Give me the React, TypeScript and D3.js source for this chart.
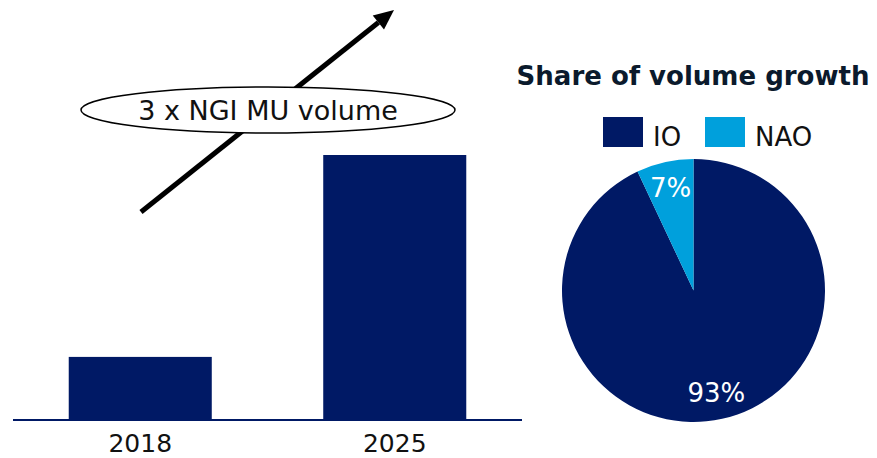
import React from "react";
import * as d3 from "d3";

const years = ["2018", "2025"];
const volumes = [1.0, 4.2];
const shareLabels = ["IO", "NAO"];
const shareValues = [93, 7];
const shareColors = ["#001965", "#00A0DC"];
const calloutText = "3 x NGI MU volume";
const pieTitle = "Share of volume growth";

const W = 877;
const H = 458;
const FONT = "'DejaVu Sans', Verdana, sans-serif";
const NAVY = "#001965";

export default function App() {
  const x = d3.scaleBand<string>().domain(years).range([13, 522]).padding(0);
  const y = d3.scaleLinear().domain([0, 4.2]).range([420, 155]);
  const barW = x.step() * 0.562;

  const cx = 693.5;
  const cy = 290.5;
  const R = 131.5;
  const pie = d3.pie<number>().sort(null).value((d) => d)(shareValues);
  const arc = d3.arc<d3.PieArcDatum<number>>().innerRadius(0).outerRadius(R);
  const labelArc = d3.arc<d3.PieArcDatum<number>>().innerRadius(105).outerRadius(105);

  const ax1 = 141, ay1 = 212, ax2 = 394, ay2 = 10;
  const ang = Math.atan2(ay2 - ay1, ax2 - ax1);
  const headLen = 20, headW = 9;
  const bx = ax2 - headLen * Math.cos(ang);
  const by = ay2 - headLen * Math.sin(ang);
  const px = -Math.sin(ang), py = Math.cos(ang);
  const head = `M${ax2},${ay2} L${bx + px * headW},${by + py * headW} L${bx - px * headW},${by - py * headW} Z`;

  return (
    <svg width={W} height={H} style={{ display: "block", position: "absolute", left: 0, top: 0 }} fontFamily={FONT}>
      <rect width={W} height={H} fill="#fff" />
      {years.map((yr, i) => (
        <rect
          key={yr}
          x={(x(yr) as number) + (x.step() - barW) / 2}
          y={y(volumes[i])}
          width={barW}
          height={y(0) - y(volumes[i])}
          fill={NAVY}
        />
      ))}
      <line x1={13} x2={522} y1={y(0)} y2={y(0)} stroke={NAVY} strokeWidth={2} />
      {years.map((yr) => (
        <text key={yr} x={(x(yr) as number) + x.step() / 2} y={452} textAnchor="middle" fontSize={25} fill="#111">
          {yr}
        </text>
      ))}
      <line x1={ax1} y1={ay1} x2={bx} y2={by} stroke="#000" strokeWidth={5} />
      <path d={head} fill="#000" />
      <ellipse cx={268} cy={110} rx={187} ry={23} fill="#fff" stroke="#000" strokeWidth={1.5} />
      <text x={268} y={120} textAnchor="middle" fontSize={27} fill="#111">
        {calloutText}
      </text>
      <text x={693} y={85} textAnchor="middle" fontSize={26} fontWeight="bold" fill="#0b1a2c">
        {pieTitle}
      </text>
      {shareLabels.map((lab, i) => {
        const lx = i === 0 ? 603 : 705;
        return (
          <g key={lab}>
            <rect x={lx} y={117} width={40} height={30} fill={shareColors[i]} />
            <text x={lx + 50} y={146} fontSize={26} fill="#111">
              {lab}
            </text>
          </g>
        );
      })}
      <g transform={`translate(${cx},${cy})`}>
        {pie.map((p, i) => (
          <path key={i} d={arc(p) as string} fill={shareColors[i]} />
        ))}
        {pie.map((p, i) => {
          const [lx, ly] = labelArc.centroid(p);
          return (
            <text key={"l" + i} x={lx} y={ly} textAnchor="middle" dominantBaseline="central" fontSize={26} fill="#fff">
              {shareValues[i]}%
            </text>
          );
        })}
      </g>
    </svg>
  );
}
